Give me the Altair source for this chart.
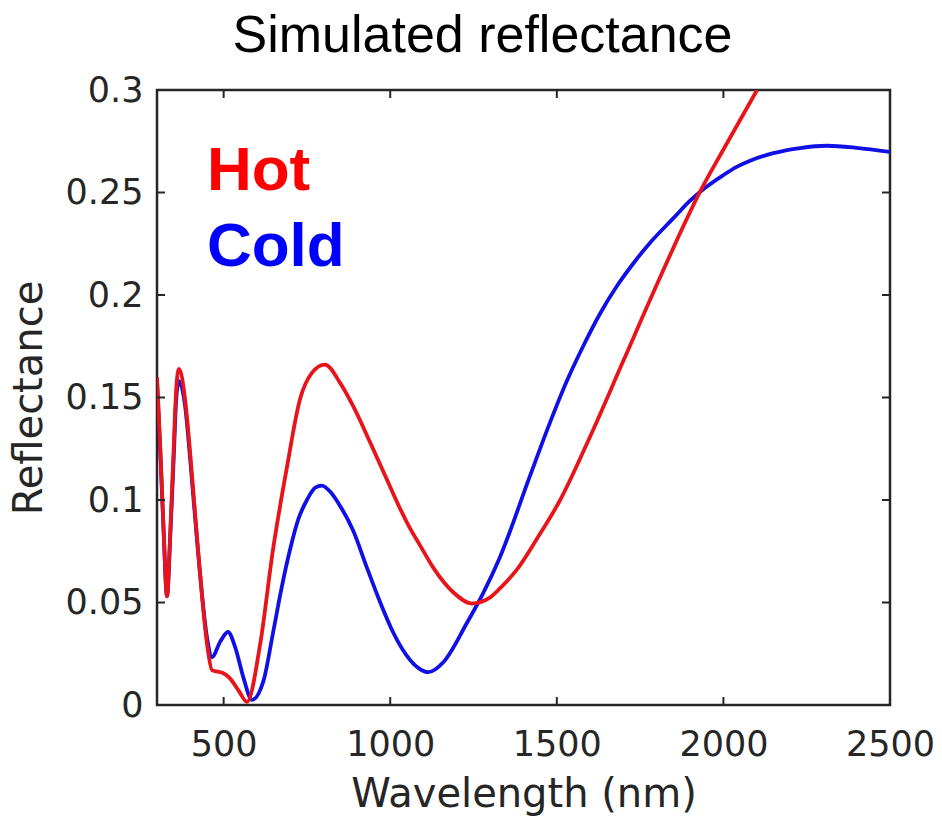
import altair as alt
import pandas as pd

# ---- data ----
hot_wl = [300, 310, 320, 330, 340, 350, 358, 366, 385, 399, 423, 450, 465, 498, 519, 545, 570,
          609, 648, 690, 729, 765, 804, 850, 888, 940, 990, 1029, 1060, 1089, 1129, 1189, 1245,
          1300, 1330, 1380, 1440, 1510, 1600, 1700, 1800, 1935, 2000, 2101]
hot_r = [0.160, 0.125, 0.085, 0.053, 0.085, 0.125, 0.155, 0.164, 0.148, 0.124, 0.076, 0.030,
         0.017, 0.0156, 0.013, 0.007, 0.0015, 0.029, 0.0756, 0.116, 0.149, 0.162, 0.166, 0.157,
         0.146, 0.128, 0.110, 0.096, 0.086, 0.078, 0.067, 0.055, 0.0495, 0.0525, 0.057, 0.066,
         0.081, 0.100, 0.131, 0.168, 0.205, 0.252, 0.271, 0.300]

cold_wl = [300, 310, 320, 330, 340, 350, 358, 366, 385, 399, 423, 450, 465, 490, 513, 535, 560,
           585, 620, 648, 675, 699, 725, 750, 775, 795, 820, 850, 889, 930, 970, 1010, 1050,
           1085, 1114, 1160, 1230, 1279, 1329, 1420, 1480, 1530, 1579, 1630, 1681, 1730, 1780,
           1850, 1900, 1935, 2000, 2040, 2080, 2150, 2230, 2311, 2400, 2500]
cold_r = [0.158, 0.123, 0.084, 0.053, 0.083, 0.120, 0.150, 0.158, 0.145, 0.121, 0.075, 0.033,
          0.0234, 0.031, 0.0356, 0.028, 0.013, 0.0025, 0.012, 0.035, 0.058, 0.0756, 0.091, 0.100,
          0.106, 0.107, 0.104, 0.097, 0.085, 0.067, 0.050, 0.035, 0.024, 0.018, 0.016, 0.021,
          0.040, 0.0546, 0.072, 0.112, 0.138, 0.158, 0.175, 0.191, 0.2045, 0.2155, 0.2255,
          0.2375, 0.246, 0.251, 0.2585, 0.2625, 0.2655, 0.2692, 0.2717, 0.2728, 0.2718, 0.2698]

x_ticks = [500, 1000, 1500, 2000, 2500]
y_ticks = [0, 0.05, 0.1, 0.15, 0.2, 0.25, 0.3]

title_text = ["Simulated reflectance"]
label_text = ["Hot", "Cold"]
label_wl = [450, 450]
label_r = [0.251, 0.214]
label_colors = ["#ff0000", "#0000ff"]

# ---- chart ----
W, H = 733, 615
FRAME = "#262626"
TICK_LEN = 8

xs = alt.Scale(domain=[300, 2500], nice=False, zero=False)
ys = alt.Scale(domain=[0, 0.3], nice=False, zero=False)

hot = pd.DataFrame({"wl": hot_wl, "r": hot_r})
cold = pd.DataFrame({"wl": cold_wl, "r": cold_r})
labels = pd.DataFrame({"wl": label_wl, "r": label_r, "t": label_text, "c": label_colors})
xt = pd.DataFrame({"wl": x_ticks})
yt = pd.DataFrame({"r": y_ticks})
tt = pd.DataFrame({"t": title_text})

x_axis = alt.Axis(values=x_ticks, format="d", title="Wavelength (nm)", labelOverlap=False,
                  labelFlush=False, labelPadding=22, titlePadding=12, tickSize=0,
                  domain=False, grid=False)
y_axis = alt.Axis(values=y_ticks, format="~g", title="Reflectance", labelOverlap=False,
                  labelFlush=False, labelPadding=14, titlePadding=16, tickSize=0,
                  domain=False, grid=False)

X = alt.X("wl:Q", scale=xs, axis=x_axis)
Y = alt.Y("r:Q", scale=ys, axis=y_axis)

cold_line = alt.Chart(cold).mark_line(color="#1010e6", strokeWidth=3.8, interpolate="monotone",
                                      clip=True).encode(x=X, y=Y)
hot_line = alt.Chart(hot).mark_line(color="#e8141a", strokeWidth=3.8, interpolate="monotone",
                                    clip=True).encode(x=X, y=Y)

text = alt.Chart(labels).mark_text(font="Liberation Sans", fontWeight="bold", fontSize=62,
                                   align="left", baseline="alphabetic").encode(
    x=X, y=Y, text="t:N", color=alt.Color("c:N", scale=None),
)

title = alt.Chart(tt).mark_text(font="Liberation Sans", fontSize=52, color="black",
                                align="center", baseline="alphabetic").encode(
    x=alt.value(W / 2 - 41), y=alt.value(-38), text="t:N")

tick_bottom = alt.Chart(xt).mark_rule(color=FRAME, strokeWidth=2).encode(
    x=X, y=alt.value(H), y2=alt.value(H - TICK_LEN))
tick_top = alt.Chart(xt).mark_rule(color=FRAME, strokeWidth=2).encode(
    x=X, y=alt.value(0), y2=alt.value(TICK_LEN))
tick_left = alt.Chart(yt).mark_rule(color=FRAME, strokeWidth=2).encode(
    y=Y, x=alt.value(0), x2=alt.value(TICK_LEN))
tick_right = alt.Chart(yt).mark_rule(color=FRAME, strokeWidth=2).encode(
    y=Y, x=alt.value(W), x2=alt.value(W - TICK_LEN))

chart = alt.layer(
    cold_line, hot_line, text, title, tick_bottom, tick_top, tick_left, tick_right
).properties(
    width=W, height=H,
    background="white",
    autosize=alt.AutoSizeParams(type="none"),
    padding={"left": 157, "top": 90, "right": 52, "bottom": 113},
).configure_view(
    stroke=FRAME, strokeWidth=2.5
).configure_axis(
    labelFont="DejaVu Sans", labelFontSize=35, labelColor=FRAME,
    titleFont="DejaVu Sans", titleFontSize=40, titleFontWeight="normal", titleColor=FRAME,
)

chart.save("out.html", embed_options={"renderer": "svg", "actions": False})
